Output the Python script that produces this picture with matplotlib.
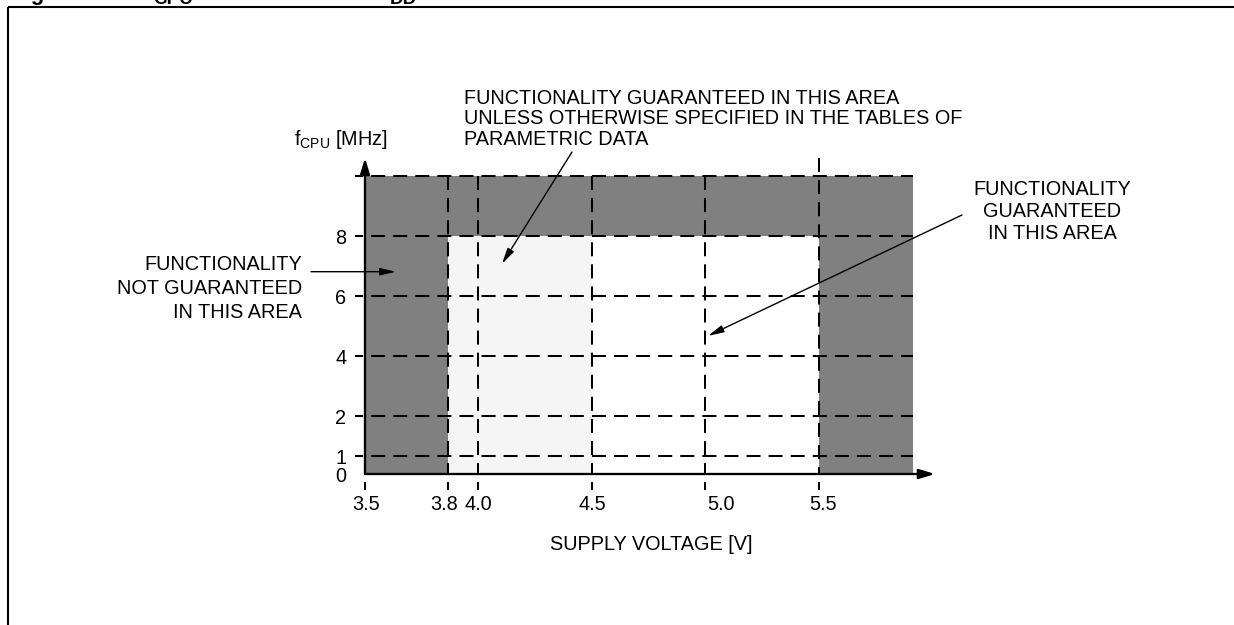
import numpy as np
import matplotlib
matplotlib.use("Agg")
import matplotlib.pyplot as plt
import matplotlib.transforms as mtransforms

plt.rcParams['font.family'] = ['Liberation Sans', 'DejaVu Sans']
plt.rcParams['mathtext.fontset'] = 'custom'
plt.rcParams['mathtext.rm'] = 'Liberation Sans'
plt.rcParams['mathtext.it'] = 'Liberation Sans:italic'
plt.rcParams['mathtext.bf'] = 'Liberation Sans:bold'
plt.rcParams['lines.scale_dashes'] = False

# ---------------- data ----------------
voltage_ticks = [3.5, 3.8, 4.0, 4.5, 5.0, 5.5]
voltage_labels = ['3.5', '3.8', '4.0', '4.5', '5.0', '5.5']
freq_ticks = [0, 1, 2, 4, 6, 8]
freq_labels = ['0', '1', '2', '4', '6', '8']
freq_grid = [1, 2, 4, 6, 8, 10]
voltage_grid = [3.8, 4.0, 4.5, 5.0, 5.5]
v_min_ok = 3.8      # lower voltage limit of guaranteed area
v_param = 4.5       # end of the "parametric data" area
v_max_ok = 5.5      # upper voltage limit
f_max_ok = 8        # max guaranteed fCPU
v_range = (3.5, 5.9)
f_range = (0, 10)

left_text = ["FUNCTIONALITY", "NOT GUARANTEED", "IN THIS AREA"]
mid_text = ["FUNCTIONALITY GUARANTEED IN THIS AREA",
            "UNLESS OTHERWISE SPECIFIED IN THE TABLES OF",
            "PARAMETRIC DATA"]
right_text = ["FUNCTIONALITY", "GUARANTEED", "IN THIS AREA"]
xlabel = "SUPPLY VOLTAGE [V]"
ylabel = r"f$_{\mathrm{CPU}}$ [MHz]"

# arrow targets (data units)
left_target = (3.613, 6.81)
mid_target = (4.105, 7.07)
right_target = (5.013, 4.67)

# ---------------- layout ----------------
W, H = 1234, 625
XV = [3.5, 3.8, 4.0, 4.5, 5.0, 5.5, 5.9]
XP = [365, 447.5, 478, 592, 705, 819, 912.7]
YV = [0, 1, 2, 4, 6, 8, 10]
YP_TOP = [474, 456, 416, 356, 296, 236, 176]
YP = [474 - p for p in YP_TOP]
FS = 14.3
DARK = '#808080'
LIGHT = '#f5f5f5'


def make_map(src, dst):
    src = np.asarray(src, float)
    dst = np.asarray(dst, float)

    def f(v):
        v = np.asarray(v, float)
        out = np.interp(v, src, dst)
        lo_s = (dst[1] - dst[0]) / (src[1] - src[0])
        hi_s = (dst[-1] - dst[-2]) / (src[-1] - src[-2])
        out = np.where(v < src[0], dst[0] + (v - src[0]) * lo_s, out)
        out = np.where(v > src[-1], dst[-1] + (v - src[-1]) * hi_s, out)
        return out
    return f


def fp(x, y_top):
    """figure-pixel position measured from top-left -> figure fraction"""
    return (x / W, 1 - y_top / H)


fig = plt.figure(figsize=(W / 100, H / 100), dpi=100)
ax_w_px = XP[-1] - XP[0]
ax_h_px = YP_TOP[0] - YP_TOP[-1]
ax = fig.add_axes([XP[0] / W, (H - YP_TOP[0]) / H, ax_w_px / W, ax_h_px / H])
ax.set_xscale('function', functions=(make_map(XV, XP), make_map(XP, XV)))
ax.set_yscale('function', functions=(make_map(YV, YP), make_map(YP, YV)))
ax.set_xlim(v_range)
ax.set_ylim(f_range)
ax.patch.set_visible(False)
for s in ax.spines.values():
    s.set_visible(False)

# regions
ax.fill_between(v_range, f_range[0], f_range[1], color=DARK, lw=0, zorder=1)
ax.fill_between([v_min_ok, v_param], 0, f_max_ok, color=LIGHT, lw=0, zorder=1)
ax.fill_between([v_param, v_max_ok], 0, f_max_ok, color='white', lw=0, zorder=1)

DASH = (10.1, 5.8)
LW = 1.45
# horizontal dashed lines
for f in freq_grid:
    ax.plot([-10 / ax_w_px, 1], [f, f], transform=ax.get_yaxis_transform(),
            color='black', lw=LW, ls=(4.3, DASH), clip_on=False, zorder=3,
            solid_capstyle='butt', dash_capstyle='butt')
# vertical dashed lines
for v in voltage_grid:
    top = 1.0 if v != v_max_ok else (474 - 158) / ax_h_px
    ax.plot([v, v], [top, 0], transform=ax.get_xaxis_transform(),
            color='black', lw=LW, ls=(0, DASH), clip_on=False, zorder=3,
            dash_capstyle='butt')
# small ticks below the axis
for v in voltage_ticks:
    ax.plot([v, v], [-8 / ax_h_px, -16 / ax_h_px], transform=ax.get_xaxis_transform(),
            color='black', lw=LW, clip_on=False, zorder=3, solid_capstyle='butt')

# axes with arrows
axis_arrow = dict(arrowstyle='-|>,head_length=0.95,head_width=0.29', lw=1.65,
                  color='black', shrinkA=0, shrinkB=0, mutation_scale=10)
ax.annotate('', xy=(1 + (935 - XP[-1]) / ax_w_px, 0), xytext=(0, 0),
            xycoords='axes fraction', arrowprops=axis_arrow, annotation_clip=False, zorder=5)
ax.annotate('', xy=(0, 1 + (176 - 158) / ax_h_px), xytext=(0, 0),
            xycoords='axes fraction', arrowprops=axis_arrow, annotation_clip=False, zorder=5)

# tick labels
ax.set_xticks(voltage_ticks)
ax.set_xticklabels(voltage_labels)
ax.set_yticks(freq_ticks)
ax.set_yticklabels(freq_labels)
ax.minorticks_off()
ax.tick_params(axis='x', length=0, pad=15, labelsize=FS)
ax.tick_params(axis='y', length=0, pad=13.5, labelsize=FS)
label_dx = [1, -3, 0, 0, 16, 4]
for lab, dx in zip(ax.get_xticklabels(), label_dx):
    lab.set_transform(lab.get_transform() +
                      mtransforms.ScaledTranslation(dx / 100, 0, fig.dpi_scale_trans))

# axis titles
fig.text(*fp(388, 145), ylabel, ha='right', va='baseline', fontsize=FS)
fig.text(*fp(651, 550), xlabel, ha='center', va='baseline', fontsize=FS)

# annotation texts
for i, t in enumerate(left_text):
    fig.text(*fp(302, 270 + 24 * i), t, ha='right', va='baseline', fontsize=FS)
for i, t in enumerate(mid_text):
    fig.text(*fp(464, 104 + 20.5 * i), t, ha='left', va='baseline', fontsize=FS)
for i, t in enumerate(right_text):
    fig.text(*fp(1052, 195 + 22 * i), t, ha='center', va='baseline', fontsize=FS)

thin_arrow = dict(arrowstyle='-|>,head_length=0.95,head_width=0.22', lw=1.0,
                  color='black', shrinkA=0, shrinkB=0, mutation_scale=10)
for target, tail in [(left_target, (311, 271.7)), (mid_target, (572, 152)),
                     (right_target, (962, 215))]:
    ax.annotate('', xy=target, xycoords='data',
                xytext=(tail[0], H - tail[1]), textcoords='figure pixels',
                arrowprops=thin_arrow, annotation_clip=False, zorder=6)

# cut-off title at the very top
fig.text(*fp(11, 0), 'Figure 52.', fontsize=16, fontweight='bold', va='baseline')
fig.text(*fp(146, 0), 'f', fontsize=16, fontweight='bold', va='baseline')
fig.text(*fp(153, 4.5), 'CPU', fontsize=13.6, fontweight='bold', va='baseline')
fig.text(*fp(196, 0), ' maximum versus V', fontsize=16, fontweight='bold', va='baseline')
fig.text(*fp(390, 4.5), 'DD', fontsize=13.6, fontweight='bold', va='baseline')

# frame
fig.add_artist(plt.Line2D([8 / W, 1], [1 - 7 / H, 1 - 7 / H], transform=fig.transFigure,
                          color='black', lw=1.5, solid_capstyle='butt'))
fig.add_artist(plt.Line2D([8 / W, 8 / W], [0, 1 - 7 / H], transform=fig.transFigure,
                          color='black', lw=1.5, solid_capstyle='butt'))

fig.savefig('out.png', dpi=100)
